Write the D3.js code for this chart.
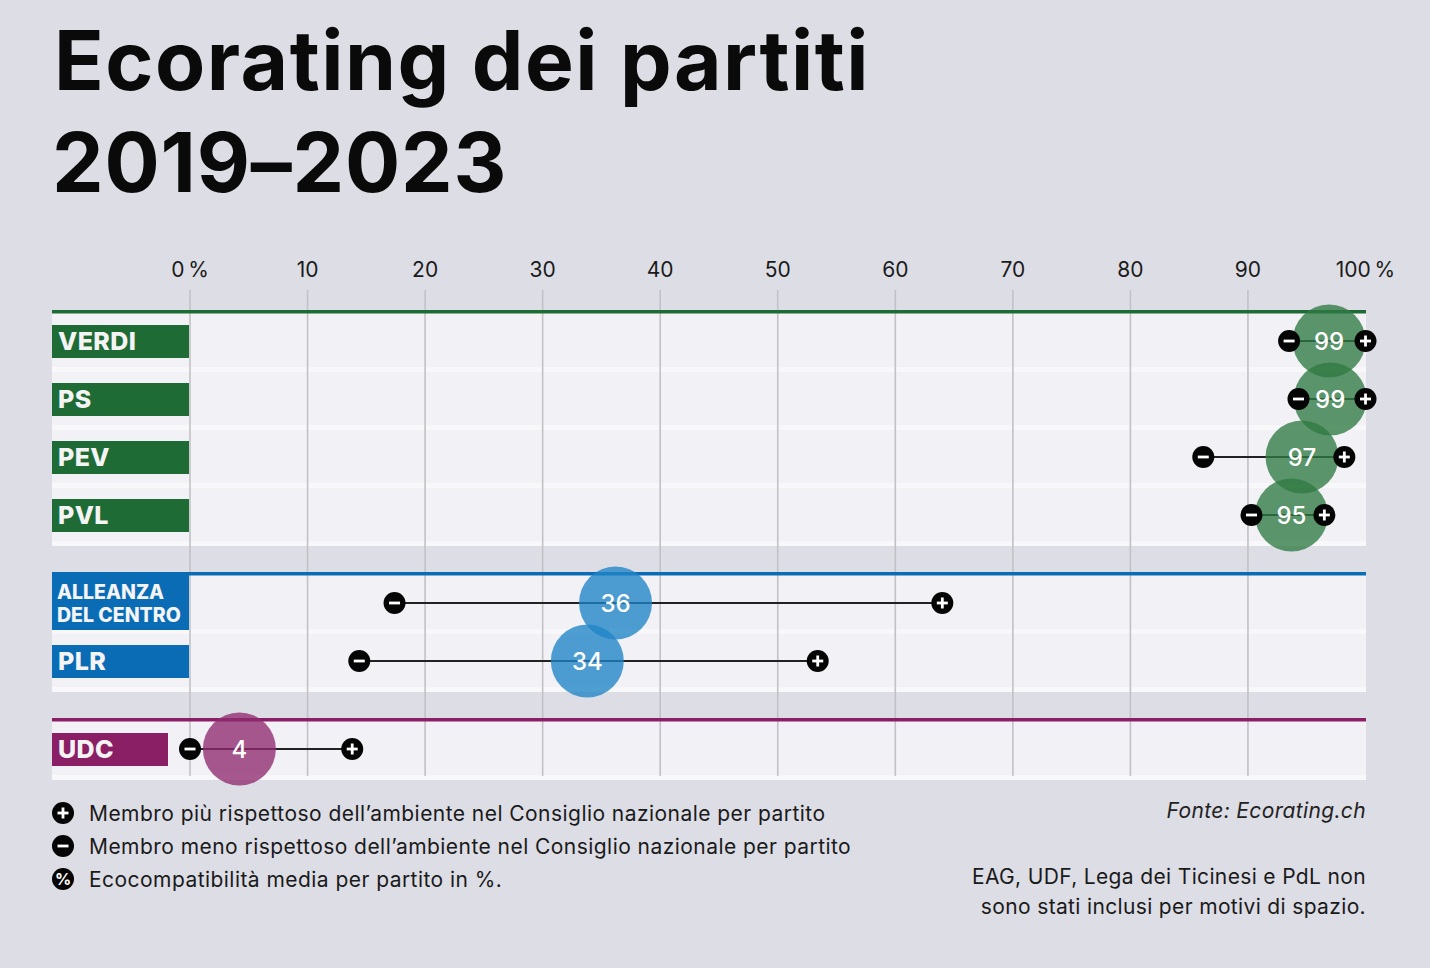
<!DOCTYPE html>
<html>
<head>
<meta charset="utf-8">
<script src="https://cdn.jsdelivr.net/npm/d3@7"></script>
<style>
html, body { margin: 0; padding: 0; background: #dddde5; }
svg { display: block; font-family: Inter, sans-serif; font-variant-ligatures: none; }
</style>
</head>
<body>
<script>
var parties = ["VERDI", "PS", "PEV", "PVL", "ALLEANZA|DEL CENTRO", "PLR", "UDC"];
var partyGroups = [0, 0, 0, 0, 1, 1, 2];
var minValues = [93.5, 94.3, 86.2, 90.3, 17.4, 14.4, 0];
var maxValues = [100, 100, 98.2, 96.5, 64, 53.4, 13.8];
// the printed number and the circle position do not agree in the original
var avgPositions = [96.9, 97, 94.6, 93.7, 36.2, 33.8, 4.2];
var avgLabels = ["99", "99", "97", "95", "36", "34", "4"];
var groupColors = ["#1f6b36", "#0a6cb5", "#8a1f66"];
var circleColors = ["#2f7a42", "#1f84c6", "#8f2a70"];
var tickValues = [0, 10, 20, 30, 40, 50, 60, 70, 80, 90, 100];
var legendTexts = [
    "Membro più rispettoso dell’ambiente nel Consiglio nazionale per partito",
    "Membro meno rispettoso dell’ambiente nel Consiglio nazionale per partito",
    "Ecocompatibilità media per partito in %."
];
var noteLines = ["EAG, UDF, Lega dei Ticinesi e PdL non", "sono stati inclusi per motivi di spazio."];

var svg = d3.select("body").append("svg")
    .attr("width", 1430)
    .attr("height", 968);

var x = d3.scaleLinear().domain([0, 100]).range([190, 1365.5]);
var y = d3.scaleLinear().domain([0, 1]).range([341, 399]);
var rowY = function(i){
    return y(i) + partyGroups[i] * 30;
}

svg.append("text").attr("x", 54).attr("y", 90)
    .attr("font-size", 82).attr("font-weight", 700).attr("letter-spacing", 1.5).attr("fill", "#0a0a0a")
    .text("Ecorating dei partiti");
svg.append("text").attr("x", 52).attr("y", 192)
    .attr("font-size", 82).attr("font-weight", 700).attr("letter-spacing", 0.8).attr("fill", "#0a0a0a")
    .text("2019–2023");

// row panels
var rows = parties.map(function(d, i){ return i; });
svg.selectAll("rect.panel").data(rows).enter().append("rect")
    .attr("class", "panel")
    .attr("x", 52).attr("width", 1314)
    .attr("y", function(i){ return rowY(i) - 29; })
    .attr("height", 58)
    .attr("fill", "#f2f2f6");
svg.selectAll("rect.stripe").data(rows).enter().append("rect")
    .attr("class", "stripe")
    .attr("x", 52).attr("width", 1314)
    .attr("y", function(i){ return rowY(i) + 26; })
    .attr("height", 5)
    .attr("fill", "#f8f8fa");

// axis with long ticks as grid
var axis = d3.axisTop(x)
    .tickValues(tickValues)
    .tickSize(486)
    .tickPadding(13)
    .tickFormat(function(d){ return (d == 0 || d == 100) ? d + "\u2009%" : d; });
var axisG = svg.append("g")
    .attr("transform", "translate(-0.5,776)")
    .call(axis);
axisG.select(".domain").remove();
axisG.selectAll("line")
    .attr("stroke", "#c2c2c6").attr("stroke-width", 1.6)
    .attr("stroke-opacity", function(d){ return d == 100 ? 0 : 1; });
axisG.selectAll("text")
    .attr("font-size", 21)
    .attr("font-family", "Inter, sans-serif")
    .attr("fill", "#1a1a1a");

// coloured top line of each group
var groupTops = [0, 4, 6];
svg.selectAll("rect.top").data(groupTops).enter().append("rect")
    .attr("class", "top")
    .attr("x", 52).attr("width", 1314)
    .attr("y", function(i){ return rowY(i) - 31; })
    .attr("height", 3.5)
    .attr("fill", function(i){ return groupColors[partyGroups[i]]; });

// party labels
svg.selectAll("rect.label").data(rows).enter().append("rect")
    .attr("class", "label")
    .attr("x", 52)
    .attr("width", function(i){ return parties[i] == "UDC" ? 116 : 137; })
    .attr("y", function(i){ return parties[i].indexOf("|") > 0 ? rowY(i) - 30 : rowY(i) - 16; })
    .attr("height", function(i){ return parties[i].indexOf("|") > 0 ? 57 : 33; })
    .attr("fill", function(i){ return groupColors[partyGroups[i]]; });

rows.forEach(function(i){
    var lines = parties[i].split("|");
    lines.forEach(function(line, k){
        svg.append("text")
            .attr("x", lines.length > 1 ? 57 : 58)
            .attr("y", lines.length > 1 ? rowY(i) - 4 + k * 23 : rowY(i) + 9)
            .attr("font-size", lines.length > 1 ? 19.5 : 25)
            .attr("letter-spacing", lines.length > 1 ? 0 : 0.4)
            .attr("font-weight", 800)
            .attr("fill", "#f4f4f4")
            .text(line);
    });
});

// range lines
svg.selectAll("line.range").data(rows).enter().append("line")
    .attr("class", "range")
    .attr("x1", function(i){ return x(minValues[i]); })
    .attr("x2", function(i){ return x(maxValues[i]); })
    .attr("y1", rowY).attr("y2", rowY)
    .attr("stroke", "#222").attr("stroke-width", 2);

// average circles
svg.selectAll("circle.avg").data(rows).enter().append("circle")
    .attr("class", "avg")
    .attr("cx", function(i){ return x(avgPositions[i]); })
    .attr("cy", rowY)
    .attr("r", 36.5)
    .attr("fill", function(i){ return circleColors[partyGroups[i]]; })
    .attr("fill-opacity", 0.78);

svg.selectAll("text.avgLabel").data(rows).enter().append("text")
    .attr("class", "avgLabel")
    .attr("x", function(i){ return x(avgPositions[i]); })
    .attr("y", function(i){ return rowY(i) + 9; })
    .attr("text-anchor", "middle")
    .attr("font-size", 24)
    .attr("font-weight", 500)
    .attr("fill", "#fff")
    .text(function(i){ return avgLabels[i]; });

var drawSign = function(cx, cy, r, plus){
    var g = svg.append("g").attr("transform", "translate(" + cx + "," + cy + ")");
    g.append("circle").attr("r", r).attr("fill", "#050505");
    g.append("line").attr("x1", -r * 0.5).attr("x2", r * 0.5)
        .attr("stroke", "#fff").attr("stroke-width", 2.8);
    if (plus) {
        g.append("line").attr("y1", -r * 0.5).attr("y2", r * 0.5)
            .attr("stroke", "#fff").attr("stroke-width", 2.8);
    }
}

rows.forEach(function(i){
    drawSign(x(minValues[i]), rowY(i), 11, false);
    drawSign(x(maxValues[i]), rowY(i), 11, true);
});

// legend
var legendY = d3.scaleLinear().domain([0, 1]).range([813, 846]);
legendTexts.forEach(function(t, i){
    if (i < 2) {
        drawSign(63, legendY(i), 11, i == 0);
    } else {
        svg.append("circle").attr("cx", 63).attr("cy", legendY(i)).attr("r", 11).attr("fill", "#050505");
        svg.append("text").attr("x", 63).attr("y", legendY(i) + 6)
            .attr("text-anchor", "middle").attr("font-size", 16).attr("font-weight", 700)
            .attr("fill", "#fff").text("%");
    }
    svg.append("text").attr("x", 89).attr("y", legendY(i) + 8)
        .attr("font-size", 21).attr("letter-spacing", 0.45).attr("fill", "#1a1a1a")
        .text(t);
});

svg.append("text").attr("x", 1366).attr("y", 818)
    .attr("text-anchor", "end").attr("font-size", 21).attr("font-style", "italic")
    .attr("letter-spacing", 0.35)
    .attr("fill", "#222").text("Fonte: Ecorating.ch");

noteLines.forEach(function(t, i){
    svg.append("text").attr("x", 1366).attr("y", 884 + i * 30)
        .attr("text-anchor", "end").attr("font-size", 21).attr("letter-spacing", 0.35)
        .attr("fill", "#1a1a1a").text(t);
});
</script>
</body>
</html>
